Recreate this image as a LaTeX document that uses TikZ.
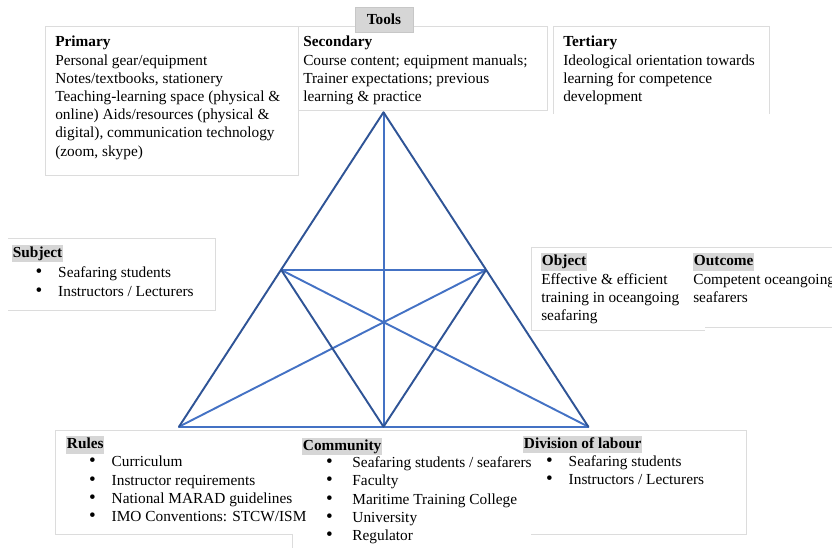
\documentclass[tikz,border=0pt]{standalone}
\usepackage{fontspec}
\usetikzlibrary{calc}
\setmainfont{Liberation Serif}
\definecolor{edgeblue}{HTML}{2F5496}
\definecolor{lineblue}{HTML}{4472C4}
\definecolor{framegray}{HTML}{DCDCDC}
\definecolor{markgray}{HTML}{D6D6D6}
\newcommand\bul[1][17pt]{\makebox[#1][l]{\scalebox{1.25}{\textbullet}}}
% multi-line text nodes are placed by the baseline of their last line
\tikzset{
  frame/.style={draw=framegray, line width=0.6pt},
  txt/.style={anchor=base west, inner sep=0pt, align=left,
    font=\fontsize{11.5}{13.65}\selectfont},
  headmark/.style={anchor=base west, inner xsep=0.5pt, inner ysep=0pt,
    fill=markgray, text height=9.5pt, text depth=3.6pt,
    font=\fontsize{11.5}{13.65}\selectfont\bfseries},
  outeredge/.style={draw=edgeblue, line width=1.45pt, line cap=round, line join=round},
  inneredge/.style={draw=lineblue, line width=1.45pt, line cap=round, line join=round},
}
\begin{document}
\begin{tikzpicture}[x=0.75pt,y=-0.75pt]
\useasboundingbox (0,0) rectangle (832,548);

% ---- Tools: three text boxes along the top
\draw[frame] (45,26) rectangle (298,175);
\draw[frame] (298,26) rectangle (547,110);
\draw[frame] (553,114) -- (553,26) -- (769,26) -- (769,114);
\node[draw=black!22, fill=markgray, minimum width=58*0.75pt, minimum height=25*0.75pt,
      inner sep=0pt, font=\fontsize{11.5}{13.65}\selectfont\bfseries] (tools) at (384,19.5) {Tools};

\node[txt] (primary) at (55,156.2) {\textbf{Primary}\\Personal gear/equipment\\Notes/textbooks, stationery\\Teaching-learning space (physical \&\\online) Aids/resources (physical \&\\digital), communication technology\\(zoom, skype)};
\node[txt] (secondary) at (303,101.6) {\textbf{Secondary}\\Course content; equipment manuals;\\Trainer expectations; previous\\learning \& practice};
\node[txt] (tertiary) at (563,101.6) {\textbf{Tertiary}\\Ideological orientation towards\\learning for competence\\development};

% ---- Subject
\draw[frame] (8,238) -- (215,238) -- (215,310) -- (8,310);
\node[headmark] (subject) at (12,257.7) {Subject};
\node[txt] (subjectlist) at (35.3,296.5) {\bul Seafaring students\\[0.6pt]\bul Instructors / Lecturers};

% ---- Object and outcome
\draw[frame] (832,247) -- (531,247) -- (531,330) -- (705,330);
\draw[frame] (705,327) -- (832,327);
\node[headmark] (object) at (541,266) {Object};
\node[txt] (objecttext) at (541,320.9) {Effective \& efficient\\training in oceangoing\\seafaring};
\node[headmark] (outcome) at (693,266) {Outcome};
\node[txt] (outcometext) at (693,302.7) {Competent oceangoing\\seafarers};

% ---- Rules, community, division of labour
\draw[frame] (292,534) -- (55,534) -- (55,430.5) -- (746,430.5) -- (746,534) -- (531,534);
\draw[frame] (292,534) -- (292,548);
\node[headmark] (rules) at (66,449) {Rules};
\node[txt] (ruleslist) at (88.8,521.6) {\bul Curriculum\\\bul Instructor requirements\\\bul National MARAD guidelines\\\bul IMO Conventions: STCW/ISM};
\node[headmark] (community) at (302,450.3) {Community};
\node[txt] (communitylist) at (325.8,540.5) {\bul[16.9pt] Seafaring students / seafarers\\\bul[16.9pt] Faculty\\\bul[16.9pt] Maritime Training College\\\bul[16.9pt] University\\\bul[16.9pt] Regulator};
\node[headmark] (division) at (523,448.3) {Division of labour};
\node[txt] (divisionlist) at (545.8,484.9) {\bul Seafaring students\\\bul Instructors / Lecturers};

% ---- Activity triangle
\coordinate (apex) at (383.5,112.3);
\coordinate (bl) at (179,426.7);
\coordinate (br) at (588.3,426.7);
\coordinate (ml) at (281.3,270);
\coordinate (mr) at (486,270);
\coordinate (mb) at (383.5,426.7);

% the vertical median is filled as a narrow band so it keeps its full width
\fill[lineblue] ($(apex)+(-1,0)$) rectangle ($(mb)+(1,0)$);
\draw[inneredge] (ml) -- (mr);
\draw[inneredge] (ml) -- (br);
\draw[inneredge] (mr) -- (bl);
\draw[inneredge] (bl) -- (br);
\draw[outeredge] (ml) -- (mb) -- (mr);
\draw[outeredge] (bl) -- (apex) -- (br);
\end{tikzpicture}
\end{document}
